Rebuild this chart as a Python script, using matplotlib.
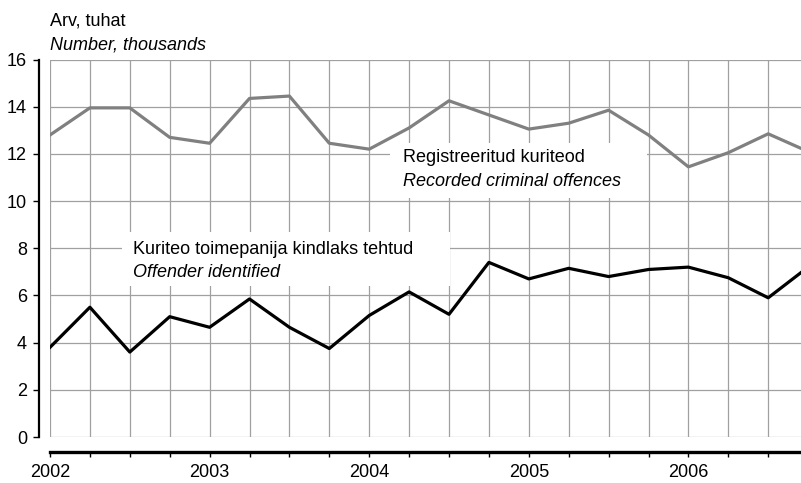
import matplotlib
matplotlib.use("Agg")
import matplotlib.pyplot as plt
from matplotlib.patches import Rectangle

plt.rcParams["font.family"] = ["Liberation Sans", "DejaVu Sans"]

# kvartalid 2002 I - 2006 IV
years = ["2002", "2003", "2004", "2005", "2006"]
recorded = [12.8, 13.95, 13.95, 12.7, 12.45, 14.35, 14.45, 12.45, 12.2, 13.1,
            14.25, 13.65, 13.05, 13.3, 13.85, 12.8, 11.45, 12.05, 12.85, 12.1]
identified = [3.8, 5.5, 3.6, 5.1, 4.65, 5.85, 4.65, 3.75, 5.15, 6.15,
              5.2, 7.4, 6.7, 7.15, 6.8, 7.1, 7.2, 6.75, 5.9, 7.2]

W, H = 801, 483
fig = plt.figure(figsize=(W / 100, H / 100), dpi=100)
ax = fig.add_axes([50 / W, 1 - 437 / H, (W - 50) / W, (437 - 59.5) / H])

x = list(range(len(recorded)))
ax.plot(x, recorded, color="#808080", lw=2.3, zorder=3)
ax.plot(x, identified, color="black", lw=2.3, zorder=3)

ax.set_yticks(range(0, 17, 2))
ax.set_xticks(x)
labels = []
for i in x:
    labels.append(years[i // 4] if i % 4 == 0 else "")
ax.set_xticklabels(labels)
# set_xticks laiendab piire, seega piirid alles parast seda
ax.set_xlim(0, (W - 50) / 39.9)
ax.set_ylim(0, 16)

ax.set_axisbelow(True)
ax.grid(True, color="#a0a0a0", lw=0.9)

for s in ("top", "right"):
    ax.spines[s].set_visible(False)
ax.spines["left"].set_position(("outward", 8))
ax.spines["left"].set_linewidth(1.6)
ax.spines["bottom"].set_position(("outward", 10.5))
ax.spines["bottom"].set_linewidth(2.4)
ax.tick_params(axis="y", length=4.5, width=1, pad=4, labelsize=13)
ax.tick_params(axis="x", length=3.8, width=1, pad=5, labelsize=13)

# valged taustad siltidele
ax.add_patch(Rectangle((8.52, 10.14), 6.44, 2.34, facecolor="white",
                       edgecolor="none", zorder=1))
ax.add_patch(Rectangle((1.8, 6.41), 8.23, 2.29, facecolor="white",
                       edgecolor="none", zorder=1))


def px(xp, yp):
    return xp / W, 1 - yp / H


fig.text(*px(50, 25), "Arv, tuhat", fontsize=13, va="baseline")
fig.text(*px(50, 50), "Number, thousands", fontsize=13, va="baseline",
         style="italic")
fig.text(*px(403, 162), "Registreeritud kuriteod", fontsize=13, va="baseline")
fig.text(*px(403, 186), "Recorded criminal offences", fontsize=13,
         va="baseline", style="italic")
fig.text(*px(133, 254), "Kuriteo toimepanija kindlaks tehtud", fontsize=13,
         va="baseline")
fig.text(*px(133, 277), "Offender identified", fontsize=13, va="baseline",
         style="italic")

fig.savefig("out.png", dpi=100)
